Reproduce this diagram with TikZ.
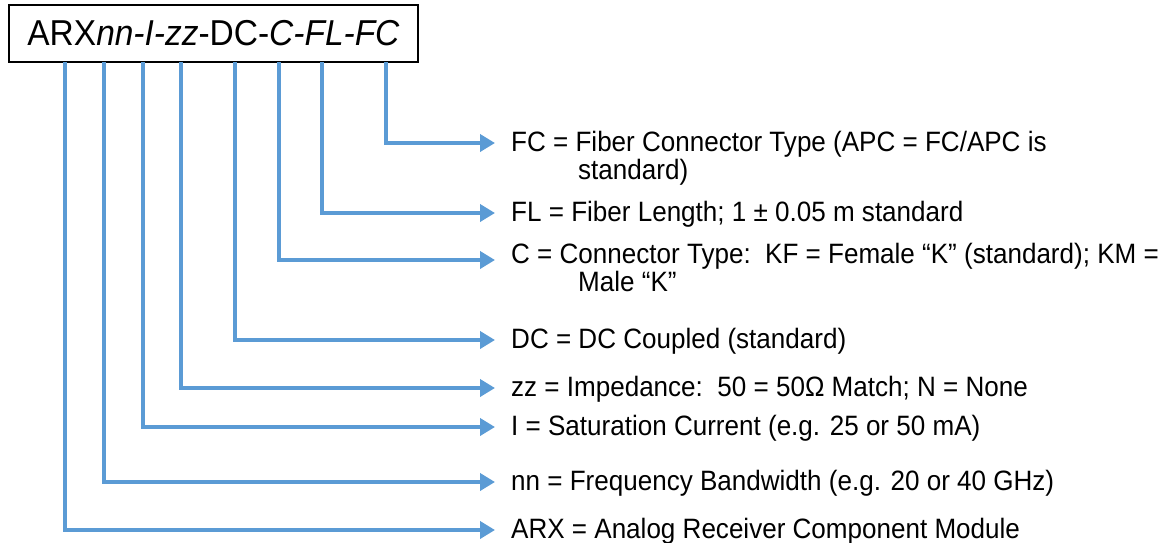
\documentclass[tikz,border=0pt]{standalone}
\usepackage{fontspec}
\setmainfont{Liberation Sans}[FakeStretch=0.93]
\usetikzlibrary{arrows.meta}

\definecolor{feedblue}{HTML}{5B9BD5}
\newcommand{\lblsize}{\fontsize{28}{28}\selectfont}
\newcommand{\keyn}{\node[anchor=base west, inner sep=0pt, align=left, font=\lblsize]}
\newcommand{\hangln}{\\\hspace*{67pt}}
\tikzset{
    feed/.style={draw=feedblue, line width=4.5pt, line join=miter,
        -{Triangle[length=15pt, width=17pt]}},
}

\begin{document}
\begin{tikzpicture}[x=1pt, y=-1pt]
    \useasboundingbox (0,0) rectangle (1176,542);

    \node[draw, line width=1.2pt, minimum width=409pt, minimum height=57pt,
        inner sep=0pt, font=\fontsize{36}{40}\selectfont] (code) at (213.5,33.5)
        {ARX\textit{nn-I-zz}-DC-\textit{C-FL-FC}};

    \coordinate (sARX) at (65,62);
    \coordinate (sNN) at (104,62);
    \coordinate (sI) at (143,62);
    \coordinate (sZZ) at (181,62);
    \coordinate (sDC) at (235,62);
    \coordinate (sC) at (279,62);
    \coordinate (sFL) at (322,62);
    \coordinate (sFC) at (386,62);

    \coordinate (tFC) at (495,143);
    \coordinate (tFL) at (495,213);
    \coordinate (tC) at (495,260);
    \coordinate (tDC) at (495,340);
    \coordinate (tZZ) at (495,388);
    \coordinate (tI) at (495,427);
    \coordinate (tNN) at (495,482);
    \coordinate (tARX) at (495,530);

    % two-line keys: base is the second line
    \keyn[font=\fontsize{28}{28}\selectfont] (lFC) at (511,179) {FC = Fiber Connector Type (APC = FC/APC is\hangln standard)};
    \keyn (lFL) at (511,221) {FL = Fiber Length; 1 ± 0.05 m standard};
    \keyn[font=\fontsize{28}{23}\selectfont] (lC) at (511,291) {C = Connector Type:\ \ KF = Female “K” (standard); KM =\hangln Male “K”};
    \keyn (lDC) at (511,348) {DC = DC Coupled (standard)};
    \keyn (lZZ) at (511,396) {zz = Impedance:\ \ 50 = 50Ω Match; N = None};
    \keyn (lI) at (511,435) {I = Saturation Current (e.g. 25 or 50 mA)};
    \keyn (lNN) at (511,490) {nn = Frequency Bandwidth (e.g. 20 or 40 GHz)};
    \keyn (lARX) at (511,538) {ARX = Analog Receiver Component Module};

    \draw[feed] (sFC) |- (tFC);
    \draw[feed] (sFL) |- (tFL);
    \draw[feed] (sC) |- (tC);
    \draw[feed] (sDC) |- (tDC);
    \draw[feed] (sZZ) |- (tZZ);
    \draw[feed] (sI) |- (tI);
    \draw[feed] (sNN) |- (tNN);
    \draw[feed] (sARX) |- (tARX);
\end{tikzpicture}
\end{document}
